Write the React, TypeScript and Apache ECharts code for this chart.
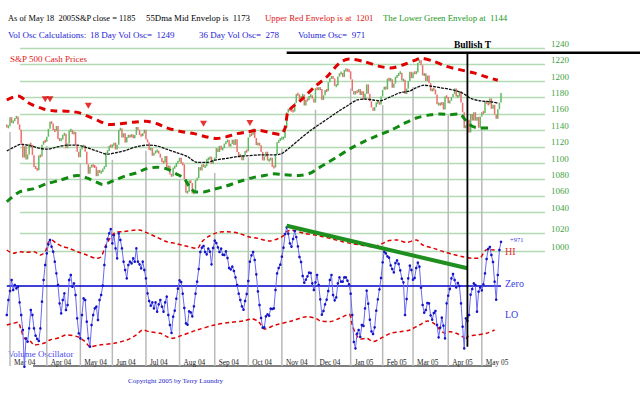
import React, { useEffect, useRef } from 'react';
import * as echarts from 'echarts';

// ---------- data ----------
const firstOpen = 1147;
const closes = [
  1143.7, 1144.9,
  1156.0, 1149.1, 1151.0, 1154.9, 1156.9, 1147.2, 1140.6, 1123.9, 1106.8, 1120.6, 1104.5, 1110.7, 1123.8, 1122.3, 1109.8, 1095.4, 1094.0, 1091.3, 1109.2, 1108.1, 1122.5, 1127.0, 1126.2,
  1132.2, 1141.8, 1150.6, 1148.2, 1140.5, 1139.3, 1145.2, 1129.4, 1128.2, 1128.8, 1134.6, 1135.8, 1118.2, 1124.1, 1139.9, 1140.6, 1135.5, 1138.1, 1122.4, 1113.9, 1107.3,
  1117.5, 1119.6, 1121.5, 1114.0, 1098.7, 1087.1, 1095.5, 1097.3, 1096.4, 1095.7, 1084.1, 1091.5, 1088.7, 1089.2, 1093.6, 1095.4, 1113.1, 1114.9, 1121.3, 1120.7,
  1121.2, 1125.0, 1116.6, 1122.5, 1140.4, 1142.2, 1131.3, 1136.5, 1125.3, 1132.0, 1133.6, 1132.1, 1135.0, 1130.3, 1134.4, 1144.1, 1140.7, 1134.4, 1133.4, 1136.2, 1140.8,
  1128.9, 1125.4, 1116.2, 1118.3, 1109.1, 1112.8, 1114.4, 1115.1, 1111.5, 1106.7, 1101.4, 1100.9, 1108.7, 1093.9, 1096.8, 1086.2, 1084.1, 1094.8, 1095.4, 1100.4, 1101.7,
  1106.6, 1099.7, 1098.6, 1080.7, 1064.0, 1065.2, 1079.0, 1075.8, 1063.2, 1064.8, 1079.3, 1081.7, 1095.2, 1091.2, 1098.4, 1095.7, 1096.2, 1105.0, 1105.1, 1107.8, 1099.2, 1104.2,
  1105.9, 1118.3, 1113.6, 1121.3, 1116.3, 1118.4, 1123.9, 1125.8, 1128.3, 1120.4, 1123.5, 1128.6, 1122.2, 1129.3, 1113.6, 1108.4, 1110.1, 1103.5, 1110.1, 1114.8, 1114.6,
  1131.5, 1135.2, 1134.5, 1142.1, 1130.7, 1122.1, 1124.4, 1121.8, 1113.7, 1103.3, 1108.2, 1114.0, 1103.2, 1103.7, 1106.5, 1095.7, 1094.8, 1111.1, 1125.4, 1127.4, 1130.2,
  1130.5, 1130.6, 1143.2, 1161.7, 1166.2, 1164.9, 1164.1, 1162.9, 1173.5, 1184.2, 1183.8, 1175.4, 1181.9, 1183.6, 1170.3, 1177.2, 1176.9, 1181.8, 1182.7, 1178.6, 1173.8,
  1191.4, 1190.3, 1191.2, 1190.3, 1177.1, 1182.8, 1189.2, 1188.0, 1198.7, 1203.4, 1205.7, 1203.2, 1194.2, 1194.7, 1205.5, 1209.6, 1210.1, 1204.9, 1213.5, 1213.5, 1213.3, 1211.9,
  1202.1, 1188.1, 1183.7, 1187.9, 1186.2, 1190.3, 1183.0, 1187.7, 1177.5, 1184.5, 1196.0, 1184.6, 1175.4, 1167.9, 1163.8, 1168.4, 1174.1, 1174.6, 1171.4, 1181.3,
  1189.4, 1193.2, 1189.9, 1203.0, 1201.7, 1202.3, 1192.0, 1197.0, 1205.3, 1206.1, 1210.1, 1210.3, 1200.8, 1201.6, 1184.2, 1190.8, 1200.2, 1211.4, 1203.6,
  1210.4, 1210.1, 1210.5, 1222.1, 1225.3, 1219.4, 1207.0, 1209.3, 1200.1, 1206.8, 1197.8, 1188.1, 1190.2, 1189.7, 1183.8, 1171.7, 1172.5, 1171.4, 1174.3, 1165.4, 1181.4, 1180.6,
  1172.9, 1176.1, 1180.6, 1184.1, 1191.1, 1181.2, 1181.2, 1187.8, 1173.8, 1162.1, 1142.6, 1146.0, 1152.8, 1137.5, 1160.0, 1152.1, 1162.1, 1151.8, 1156.4, 1143.2, 1156.9,
  1162.2, 1161.2, 1175.7, 1172.6, 1171.4, 1178.8, 1166.2, 1171.1, 1159.4, 1154.1, 1165.7, 1173.8, 1185.6,
];

const monthStartIdx = [2, 25, 46, 66, 87, 108, 130, 151, 172, 193, 215, 235, 254, 276, 297];
const monthLabels = ['Mar 04', 'Apr 04', 'May 04', 'Jun 04', 'Jul 04', 'Aug 04', 'Sep 04', 'Oct 04', 'Nov 04', 'Dec 04', 'Jan 05', 'Feb 05', 'Mar 05', 'Apr 05', 'May 05'];
const monthLineTop = [1138, 1121, 1100, 1104, 1115, 1080, 1088, 1107, 1118, 1165, 1191, 1171, 1193, 1159, 1142];

const upperEnv = [
  [0, 1177], [7, 1182], [14, 1173], [23, 1166], [29, 1164], [40, 1163], [46, 1161], [52, 1156], [58, 1151], [64, 1147], [71, 1148], [79, 1150], [87, 1151], [94, 1148], [100, 1143], [108, 1139], [117, 1136], [125, 1132], [131, 1130], [137, 1132], [144, 1136], [150, 1138], [158, 1140], [165, 1137], [171, 1135], [174, 1143], [176, 1163], [184, 1177], [193, 1194], [200, 1205], [208, 1222], [214, 1227], [223, 1224], [233, 1218], [240, 1216], [248, 1220], [256, 1226], [259, 1228], [267, 1224], [275, 1218], [283, 1214], [292, 1210], [300, 1205], [307, 1201],
];
const midEnv = [
  [0, 1115], [4, 1119], [9, 1123], [15, 1121], [21, 1118], [25, 1117], [30, 1119], [38, 1122], [44, 1122], [50, 1119], [56, 1115], [63, 1111], [69, 1113], [75, 1116], [81, 1120], [88, 1122], [94, 1121], [100, 1117], [106, 1113], [113, 1108], [119, 1101], [125, 1101], [131, 1104], [138, 1106], [144, 1108], [150, 1109], [158, 1110], [165, 1110], [171, 1111], [173, 1113], [177, 1119], [183, 1129], [190, 1140], [196, 1148], [202, 1156], [208, 1164], [213, 1170], [219, 1177], [225, 1178], [229, 1177], [233, 1176], [240, 1181], [246, 1186], [252, 1188], [256, 1192], [261, 1195], [265, 1194], [271, 1192], [277, 1190], [283, 1187], [287, 1183], [290, 1179], [296, 1176], [302, 1175], [307, 1173],
];
const lowerEnv = [
  [0, 1053], [8, 1065], [17, 1069], [25, 1075], [33, 1079], [44, 1085], [50, 1082], [56, 1077], [60, 1074], [67, 1079], [75, 1085], [81, 1088], [87, 1093], [94, 1095], [100, 1093], [106, 1087], [111, 1081], [114, 1072], [118, 1065], [123, 1065], [129, 1068], [137, 1072], [146, 1078], [155, 1083], [161, 1085], [167, 1087], [173, 1086], [183, 1085], [190, 1088], [194, 1093], [200, 1100], [206, 1107], [215, 1118], [223, 1126], [231, 1133], [240, 1140], [248, 1148], [256, 1155], [265, 1159], [271, 1160], [277, 1159], [283, 1160], [287, 1152], [291, 1145], [296, 1143], [301, 1143],
];
const sellMarks = [[24, 1178], [27, 1178], [51, 1170], [123, 1148], [152, 1149]];

const volOsc = [
  -638, -308, -110, 132, -88, 22, -51, -15, -359, -638, -968, -1774, -1151, -1224, -931, -528, -638, -931, -1092, -1165,
  -1209, -931, -344, 132, 462, 718, 916, 1012, 865, 755, 535, 279, 22, -381, -601, -308, -161, -528, -418, 132,
  242, -15, 59, -198, -711, -1041, -1151, -638, -271, -308, -784, -1151, -1334, -858, -638, -491, -454, -748, -308, -198,
  7, 462, 865, 1034, 1158, 1253, 938, 1121, 828, 608, 1158, 1012, 828, 535, 352, 169, 462, 535, 498, 608,
  535, 828, 535, 476, 388, 535, 352, 169, -161, -330, -432, -359, -491, -359, -564, -403, -308, -454, -564, -359,
  -235, -638, -858, -1033, -674, -542, -279, -59, 125, 88, -169, -484, -821, -850, -557, -579, -667, -447, -169, 95,
  374, 748, 843, 880, 748, 696, 821, 755, 476, 836, 997, 946, 850, 748, 821, 689, 682, 762, 616, 396,
  367, 425, 330, 191, 22, -169, -308, -447, -520, -330, -176, 110, 535, 674, 748, 572, 257, -117, -418, -704,
  -916, -909, -667, -623, -652, -498, -506, -491, -88, 279, 396, 469, 645, 843, 1143, 1290, 1151, 938, 865, 1034,
  1209, 1077, 872, 638, 528, 220, 73, 139, 213, 293, 286, 59, -88, 81, 242, 22, -293, -630, -550, -403,
  -300, -110, 132, 242, -198, -315, -249, 59, 191, 95, 95, 191, 191, 117, 37, -169, -638, -1231, -1371, -1048,
  -968, -1121, -858, -880, -491, -103, -388, -740, -997, -1056, -909, -542, -293, -73, 176, 520, 755, 718, 652, 623,
  454, 374, 301, 506, 564, 484, 345, 161, 81, -638, -286, 169, 447, 352, 139, 176, 396, 513, 425, -37,
  -418, -586, -528, -374, -381, -645, -740, -594, -550, -858, -1129, -916, -696, -872, -1151, -381, -213, -66, 169, 264,
  132, -29, 66, 0, -381, -894, -1371, -711, -770, -638, -191, -66, 59, 22, -564, -125, -29, -95, 37, 279,
  594, 814, 858, 682, 528, 95, -300, 242, 792, 971,
];
const oscHi = [
  [0, 792], [4, 718], [8, 755], [12, 740], [17, 755], [21, 682], [24, 755], [26, 960], [28, 1012], [31, 938], [35, 865], [39, 828], [44, 755], [50, 682], [56, 608], [59, 645], [62, 902], [66, 1121], [68, 1180], [73, 1195], [81, 1231], [83, 1231], [87, 1180], [93, 1085], [100, 975], [105, 938], [111, 887], [119, 828], [122, 975], [126, 1085], [132, 1180], [138, 1195], [145, 1158], [151, 1085], [157, 1048], [164, 990], [170, 1048], [173, 1107], [175, 1195], [178, 1230], [186, 1158], [195, 1107], [202, 1048], [210, 975], [215, 938], [221, 902], [229, 865], [235, 938], [238, 990], [244, 1012], [250, 960], [256, 1012], [260, 902], [267, 828], [273, 755], [279, 696], [285, 645], [292, 608], [296, 623], [298, 718], [300, 800], [305, 790],
];
const oscLo = [
  [0, -858], [4, -821], [7, -799], [9, -968], [11, -1151], [15, -1224], [17, -1297], [23, -1261], [27, -1187], [33, -1136], [37, -1077], [44, -1114], [49, -1224], [52, -1334], [58, -1297], [67, -1261], [75, -1187], [81, -1077], [85, -968], [89, -1004], [96, -1041], [100, -1114], [103, -1151], [109, -1092], [119, -968], [130, -858], [140, -799], [148, -770], [153, -726], [157, -770], [159, -858], [161, -946], [168, -858], [178, -770], [188, -674], [194, -726], [196, -770], [202, -784], [208, -711], [214, -623], [216, -858], [218, -1041], [221, -1165], [225, -1151], [229, -1224], [233, -1165], [240, -1041], [246, -1004], [252, -967], [258, -858], [263, -770], [267, -821], [271, -967], [274, -1041], [277, -1004], [281, -1041], [285, -1114], [287, -1187], [288, -1114], [294, -1077], [300, -1041], [305, -968],
];
const oscTrend = [[175, 1327], [288, 389]];
const tStartIdx = 175; // Bullish T bar start
const tStemIdx = 288; // Bullish T stem

const priceMin = 1040, priceMax = 1240, priceStep = 20;
const lowerGridMin = 1000, lowerGridMax = 1020;
const oscMin = -1540, oscMax = 1540;

// ---------- styling ----------
const SERIF = '"Liberation Serif", "Times New Roman", serif';
const GRID_GREEN = '#b3dbb3';
const LABEL_GREEN = '#3f9f3f';
const UP = '#62b862';
const DOWN = '#ee6e6e';

export default function App() {
  const ref = useRef<HTMLDivElement>(null);
  useEffect(() => {
    const chart = echarts.init(ref.current!, undefined, { renderer: 'svg' });
    const cats = closes.map((_, i) => String(i));
    const bars = closes.map((c, i) => [i, i === 0 ? firstOpen : closes[i - 1], c]);
    const monthSet = new Set(monthStartIdx);
    const gridAxisLabel = {
      color: LABEL_GREEN, fontFamily: SERIF, fontSize: 9, margin: 6, verticalAlign: 'bottom' as const,
      formatter: (v: number) => String(v),
    };
    const option: any = {
      animation: false,
      backgroundColor: '#ffffff',
      grid: [
        { left: 6.8, right: 139, top: 48.3, height: 164.1 },
        { left: 6.8, right: 139, top: 216, height: 140 },
        { left: 20, right: 95, top: 48.3, height: 164.1 },
        { left: 20, right: 95, top: 233.3, height: 18.4 },
      ],
      xAxis: [
        { type: 'category', gridIndex: 0, data: cats, boundaryGap: false, show: false },
        {
          type: 'category', gridIndex: 1, data: cats, boundaryGap: false,
          axisLine: { show: false }, axisTick: { show: false }, splitLine: { show: false },
          axisLabel: {
            interval: (i: number) => monthSet.has(i),
            formatter: (v: string) => { const k = monthStartIdx.indexOf(Number(v)); return k >= 0 ? monthLabels[k] : ''; },
            align: 'left', padding: [0, 0, 0, 4], margin: 2.5, fontSize: 7.3, color: '#222', fontFamily: SERIF,
          },
        },
        { type: 'value', gridIndex: 2, min: 0, max: 1, show: false },
        { type: 'value', gridIndex: 3, min: 0, max: 1, show: false },
      ],
      yAxis: [
        { type: 'value', gridIndex: 0, min: priceMin, max: priceMax, show: false },
        { type: 'value', gridIndex: 1, min: oscMin, max: oscMax, show: false },
        {
          type: 'value', gridIndex: 2, min: priceMin, max: priceMax, interval: priceStep, position: 'right',
          axisLine: { show: false }, axisTick: { show: false },
          splitLine: { show: true, showMinLine: true, showMaxLine: true, lineStyle: { color: GRID_GREEN, width: 1.4 } },
          axisLabel: gridAxisLabel,
        },
        {
          type: 'value', gridIndex: 3, min: lowerGridMin, max: lowerGridMax, interval: priceStep, position: 'right',
          axisLine: { show: false }, axisTick: { show: false },
          splitLine: { show: true, showMinLine: true, showMaxLine: true, lineStyle: { color: GRID_GREEN, width: 1.4 } },
          axisLabel: gridAxisLabel,
        },
      ],
      series: [
        {
          type: 'custom', xAxisIndex: 0, yAxisIndex: 0, z: 1, silent: true,
          data: monthStartIdx.map((d, k) => [d, monthLineTop[k]]),
          renderItem: (_p: any, api: any) => {
            const pt = api.coord([api.value(0), api.value(1)]);
            return {
              type: 'line',
              shape: { x1: pt[0], y1: pt[1], x2: pt[0], y2: 366 },
              style: { stroke: '#b9b9b9', lineWidth: 1.5 },
            };
          },
        },
        {
          type: 'custom', xAxisIndex: 0, yAxisIndex: 0, z: 3, silent: true,
          data: bars,
          renderItem: (_p: any, api: any) => {
            const i = api.value(0), o = api.value(1), c = api.value(2);
            const a = api.coord([i, o]);
            const b = api.coord([i, c]);
            let y1 = Math.min(a[1], b[1]), y2 = Math.max(a[1], b[1]);
            if (y2 - y1 < 3) { const m = (y1 + y2) / 2; y1 = m - 1.5; y2 = m + 1.5; }
            return {
              type: 'line',
              shape: { x1: a[0], y1, x2: a[0], y2 },
              style: { stroke: c >= o ? UP : DOWN, lineWidth: 1.5 },
            };
          },
        },
        {
          type: 'line', xAxisIndex: 0, yAxisIndex: 0, z: 4, data: midEnv, symbol: 'none', smooth: 0.3,
          lineStyle: { color: '#111', width: 1.3, type: [3, 1] },
        },
        {
          type: 'line', xAxisIndex: 0, yAxisIndex: 0, z: 4, data: upperEnv, symbol: 'none', smooth: 0.3,
          lineStyle: { color: '#e00000', width: 3, type: [7, 5] },
        },
        {
          type: 'line', xAxisIndex: 0, yAxisIndex: 0, z: 4, data: lowerEnv, symbol: 'none', smooth: 0.3,
          lineStyle: { color: '#128a12', width: 3, type: [7, 5] },
        },
        {
          type: 'scatter', xAxisIndex: 0, yAxisIndex: 0, z: 5, data: sellMarks,
          symbol: 'triangle', symbolRotate: 180, symbolSize: [7, 6], itemStyle: { color: '#e00000' },
        },
        {
          type: 'line', xAxisIndex: 1, yAxisIndex: 1, z: 3, data: oscHi, symbol: 'none', smooth: 0.3,
          lineStyle: { color: '#e00000', width: 1.5, type: [4, 3] },
        },
        {
          type: 'line', xAxisIndex: 1, yAxisIndex: 1, z: 3, data: oscLo, symbol: 'none', smooth: 0.3,
          lineStyle: { color: '#e00000', width: 1.5, type: [4, 3] },
        },
        {
          type: 'line', xAxisIndex: 1, yAxisIndex: 1, z: 5, data: volOsc, clip: false,
          symbol: 'circle', symbolSize: 2.6, showSymbol: true, showAllSymbol: true,
          lineStyle: { color: '#6868f2', width: 1 },
          itemStyle: { color: '#1414c8' },
          markLine: {
            silent: true, symbol: 'none', label: { show: false },
            lineStyle: { color: '#0000cc', width: 1.5, type: 'solid' },
            data: [{ yAxis: 0 }],
          },
        },
        {
          type: 'line', xAxisIndex: 1, yAxisIndex: 1, z: 6, data: oscTrend, symbol: 'none',
          lineStyle: { color: '#1f8f1f', width: 4 },
        },
      ],
    };
    chart.setOption(option);

    const xT0 = chart.convertToPixel({ xAxisIndex: 0 }, tStartIdx) as unknown as number;
    const xT = chart.convertToPixel({ xAxisIndex: 0 }, tStemIdx) as unknown as number;
    const txt = (x: number, y: number, text: string, fill: string, fontSize = 9, extra: any = {}) => ({
      type: 'text', x, y, silent: true,
      style: { text, fill, fontSize, fontFamily: SERIF, verticalAlign: 'middle', align: 'left', ...extra },
    });
    chart.setOption({
      graphic: [
        txt(8, 18, 'As of May 18  2005S&P close = 1185', '#000', 8.4),
        txt(146, 18, '55Dma Mid Envelop is  1173', '#000', 8.8),
        txt(265, 18, 'Upper Red Envelop is at  1201', '#e01515', 8.8),
        txt(383, 18, 'The Lower Green Envelop at  1144', '#1b981b', 8.8),
        txt(8, 35, 'Vol Osc Calculations:', '#2424d6'),
        txt(90, 35, '18 Day Vol Osc=  1249', '#2424d6'),
        txt(199, 35, '36 Day Vol Osc=  278', '#2424d6'),
        txt(298, 35, 'Volume Osc=  971', '#2424d6'),
        txt(10, 58.5, 'S&P 500 Cash Prices', '#e02020'),
        txt(472.5, 45, 'Bullish T', '#000', 9.5, { align: 'center', fontWeight: 'bold' }),
        { type: 'line', silent: true, z: 10, shape: { x1: xT0, y1: 52.8, x2: 640, y2: 52.8 }, style: { stroke: '#000', lineWidth: 2.6 } },
        { type: 'line', silent: true, z: 10, shape: { x1: xT, y1: 52.8, x2: xT, y2: 346.7 }, style: { stroke: '#000', lineWidth: 1.8 } },
        txt(8, 353.5, 'Volume Oscillator', '#4a4af0'),
        txt(505, 283, 'Zero', '#3a3ae8', 10),
        txt(505, 251, 'HI', '#e03030', 10),
        txt(505, 314, 'LO', '#3a3ae8', 10),
        txt(510, 239, '+971', '#3a3ae8', 6.5),
        { type: 'line', silent: true, shape: { x1: 33, y1: 366, x2: 492, y2: 366 }, style: { stroke: '#555', lineWidth: 1.6 } },
        txt(128, 380.5, 'Copyright 2005 by Terry Laundry', '#2222cc', 7),
      ],
    });
    return () => chart.dispose();
  }, []);
  return (
    <div
      ref={ref}
      style={{ position: 'fixed', left: 0, top: 0, width: 640, height: 398, background: '#fff' }}
    />
  );
}
